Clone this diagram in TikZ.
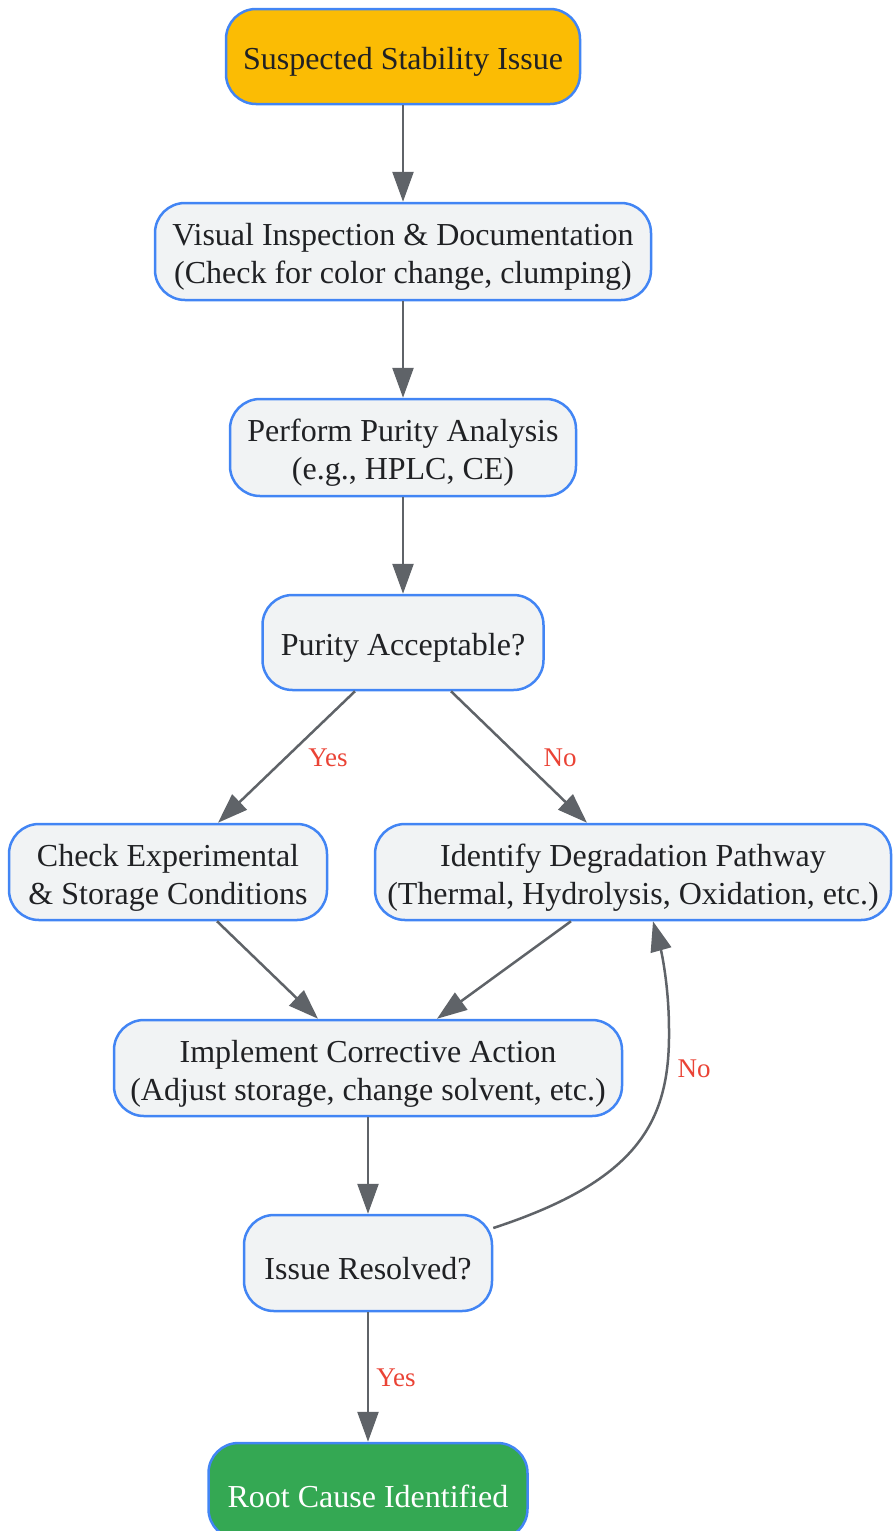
\documentclass[tikz,border=0pt]{standalone}
\usepackage{fontspec}
\setmainfont{Liberation Serif}
\usetikzlibrary{arrows.meta}
\definecolor{nodefill}{HTML}{F1F3F4}
\definecolor{bordercol}{HTML}{4285F4}
\definecolor{textcol}{HTML}{202124}
\definecolor{edgecol}{HTML}{5F6368}
\definecolor{labelcol}{HTML}{EA4335}
\definecolor{startcol}{HTML}{FBBC04}
\definecolor{endcol}{HTML}{34A853}
\newcommand\ts{\rule{0pt}{33pt}}
\begin{document}
\begin{tikzpicture}[x=1pt,y=-1pt,
  box/.style={draw=bordercol, line width=2.5pt, fill=nodefill, rounded corners=30pt,
    align=center, font=\fontsize{32}{38}\selectfont, text=textcol, inner sep=0pt},
  startbox/.style={box, fill=startcol},
  endbox/.style={box, fill=endcol, text=white},
  edge/.style={draw=edgecol, line width=2.5pt, -{Triangle[length=30pt,width=21pt]}},
  lbl/.style={text=labelcol, font=\fontsize{27}{32}\selectfont, inner sep=0pt}]
\useasboundingbox (0,0) rectangle (892,1531);

\node[startbox, minimum width=354pt, minimum height=95pt] (n1) at (403,56.5) {\ts Suspected Stability Issue};
\node[box, minimum width=496pt, minimum height=97pt] (n2) at (403,251.5) {\ts Visual Inspection \& Documentation\\(Check for color change, clumping)};
\node[box, minimum width=346pt, minimum height=97pt] (n3) at (403,447.5) {\ts Perform Purity Analysis\\(e.g., HPLC, CE)};
\node[box, minimum width=281pt, minimum height=95pt] (n4) at (403,642.5) {\ts Purity Acceptable?};
\node[box, minimum width=318pt, minimum height=96pt] (n5) at (168,872) {\ts Check Experimental\\\& Storage Conditions};
\node[box, minimum width=516pt, minimum height=96pt] (n6) at (633,872) {\ts Identify Degradation Pathway\\(Thermal, Hydrolysis, Oxidation, etc.)};
\node[box, minimum width=508pt, minimum height=96pt] (n7) at (368,1068) {\ts Implement Corrective Action\\(Adjust storage, change solvent, etc.)};
\node[box, minimum width=248pt, minimum height=96pt] (n8) at (368,1263) {\ts Issue Resolved?};
\node[endbox, minimum width=319pt, minimum height=96pt] (n9) at (368,1491) {\ts Root Cause Identified};

\draw[edge] (n1.south) -- (n2.north);
\draw[edge] (n2.south) -- (n3.north);
\draw[edge] (n3.south) -- (n4.north);
\draw[edge] ([xshift=-48pt]n4.south) -- ([xshift=50pt]n5.north);
\draw[edge] ([xshift=48pt]n4.south) -- ([xshift=-46pt]n6.north);
\draw[edge] ([xshift=49pt]n5.south) -- ([xshift=-50pt]n7.north);
\draw[edge] ([xshift=-62pt]n6.south) -- ([xshift=69pt]n7.north);
\draw[edge] (n7.south) -- (n8.north);
\draw[edge] (n8.south) -- (n9.north);
\draw[edge] ([yshift=35pt]n8.east) .. controls (640,1180) and (670,1120) .. (669,1030)
  .. controls (669,985) and (661,950) .. ([xshift=20pt]n6.south);

\node[lbl] (l1) at (328,758) {Yes};
\node[lbl] (l2) at (560,758) {No};
\node[lbl] (l3) at (694,1069) {No};
\node[lbl] (l4) at (396,1378) {Yes};
\end{tikzpicture}
\end{document}
